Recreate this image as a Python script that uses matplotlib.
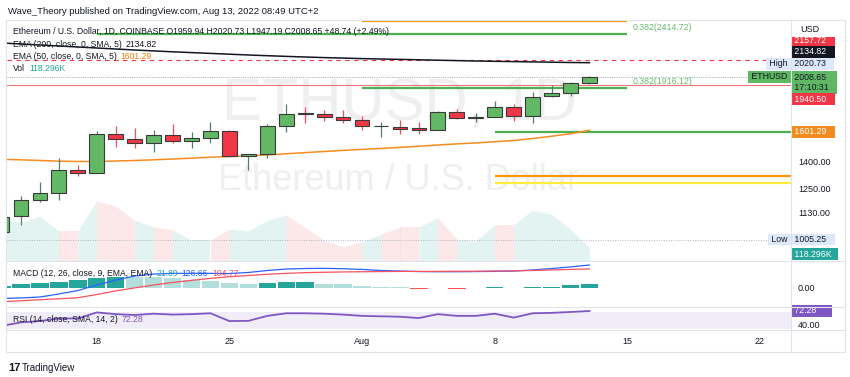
import matplotlib
matplotlib.use('Agg')
import matplotlib.pyplot as plt
import matplotlib.dates as mdates
from matplotlib.ticker import NullLocator
from matplotlib.patches import Rectangle
import pandas as pd

plt.rcParams['font.family'] = ['Liberation Sans', 'DejaVu Sans']

# ---------------- data ----------------
dates = pd.date_range('2022-07-13', '2022-08-13', freq='D')
opens = [1037, 1112, 1190, 1228, 1350, 1335, 1576, 1541, 1519, 1571, 1532, 1548, 1594, 1437, 1447, 1633,
         1722, 1716, 1692, 1675, 1629, 1626, 1615, 1603, 1733, 1689, 1696, 1770, 1702, 1853, 1874, 1959.94]
highs = [1121, 1211, 1283, 1421, 1381, 1596, 1631, 1619, 1603, 1645, 1591, 1661, 1603, 1449, 1645, 1788,
         1770, 1743, 1743, 1704, 1661, 1673, 1661, 1740, 1751, 1726, 1816, 1791, 1882, 1941, 1969, 2020.73]
lows = [1005.25, 1070, 1178, 1190, 1318, 1333, 1489, 1483, 1462, 1515, 1487, 1515, 1436, 1352, 1421, 1588,
        1654, 1666, 1649, 1603, 1558, 1576, 1576, 1600, 1678, 1661, 1692, 1666, 1654, 1847, 1853, 1947.19]
closes = [1109, 1190, 1228, 1352, 1335, 1576, 1541, 1519, 1571, 1532, 1548, 1594, 1437, 1447, 1633, 1718,
          1719, 1696, 1675, 1631, 1633, 1612, 1603, 1733, 1689, 1696, 1770, 1702, 1847, 1874, 1956, 2008.65]
volume_k = [371, 341, 400, 267, 267, 534, 490, 362, 303, 279, 184, 184, 287, 267, 362, 409,
            296, 184, 127, 172, 238, 303, 303, 385, 193, 178, 320, 327, 451, 416, 282, 118.296]
ema50 = [1415, 1412, 1408, 1404, 1402, 1402, 1405, 1408, 1412, 1417, 1422, 1428, 1432, 1436, 1442, 1449,
         1456, 1463, 1470, 1476, 1482, 1489, 1496, 1504, 1511, 1517, 1525, 1533, 1546, 1561, 1578, 1601.29]
ema200 = [2321.3, 2311.5, 2301.7, 2291.9, 2282.2, 2272.5, 2262.8, 2253.2, 2244.6, 2236.0, 2228.4, 2220.9,
          2213.3, 2205.8, 2199.2, 2192.7, 2187.1, 2181.5, 2176.9, 2172.2, 2168.6, 2164.9, 2161.2, 2157.5,
          2153.8, 2150.2, 2147.4, 2144.7, 2141.9, 2139.2, 2136.5, 2134.82]
macd_line = [-60, -57, -52, -35, -16, 15, 43, 65, 76, 80, 80, 80, 79, 85, 96, 104,
             107, 108, 106, 102, 96, 93, 90, 89, 89, 90, 91, 93, 99, 107, 116, 126.66]
signal_line = [-78, -73, -67, -62, -56, -38, -18, -1, 15, 29, 41, 52, 61, 68, 75, 80,
               84, 86, 88, 89, 90, 91, 91, 91, 92, 92, 93, 94, 96, 99, 102, 104.77]
macd_hist = [12, 18, 26, 33, 41, 56, 62, 61, 58, 52, 45, 37, 28, 18, 24, 30,
             32, 22, 20, 11, 6, 2, -5, -2, -5, -4, 3, -4, 3, 6, 13, 21.89]
rsi = [38, 46, 49, 55, 55, 69, 65, 63, 66, 64, 65, 67, 49, 49.5, 61, 67,
       67, 66, 64, 61, 60, 59, 56, 65, 61, 61, 66, 57, 67, 68, 70, 72.28]

# drawn levels
level_top_orange = 2552.0
fib_upper = 2414.72
fib_lower = 1916.12
support_green = 1589.5
support_orange = 1318.0
support_yellow = 1279.5
hline_red_dashed = 2157.72
hline_red = 1940.50
period_high = 2020.73
period_low = 1005.25
last_close = 2008.65
fib_upper_start, fib_start, fib_end = '2022-07-18', '2022-08-01', '2022-08-15'
support_start = '2022-08-08'

price_ticks = [1130, 1250, 1400]
tick_dates = ['2022-07-18', '2022-07-25', '2022-08-01', '2022-08-08', '2022-08-15', '2022-08-22']
tick_labels = ['18', '25', 'Aug', '8', '15', '22']

# ---------------- figure ----------------
W, H = 850, 377
fig = plt.figure(figsize=(8.5, 3.77), dpi=100)
fig.patch.set_facecolor('white')


def rect(x0, y0, x1, y1):
    return [x0 / W, 1 - y1 / H, (x1 - x0) / W, (y1 - y0) / H]


TXT = '#131722'
ax_v = fig.add_axes(rect(7, 20, 791, 261))
ax = fig.add_axes(rect(7, 20, 791, 261), sharex=ax_v)
ax_m = fig.add_axes(rect(7, 261, 791, 307), sharex=ax_v)
ax_r = fig.add_axes(rect(7, 307, 791, 330), sharex=ax_v)
ax.patch.set_alpha(0)

x = mdates.date2num(dates)
d0 = x[0]
ax_v.set_xlim(d0 + 5 / 18.95, d0 + 789 / 18.95)
xmin, xmax = ax_v.get_xlim()

for a in (ax_v, ax, ax_m, ax_r):
    for s in a.spines.values():
        s.set_visible(False)
    a.tick_params(length=0, labelsize=6.5, labelcolor=TXT)
    a.yaxis.tick_right()
for a in (ax_v, ax, ax_m):
    a.tick_params(axis='x', labelbottom=False)
ax_v.set_yticks([])

# watermark
ax_v.text(400 / W, 1 - 105 / H, 'ETHUSD, 1D', transform=fig.transFigure, ha='center', va='center',
          fontsize=43, color='#efeff2', zorder=0)
ax_v.text(398 / W, 1 - 181 / H, 'Ethereum / U.S. Dollar', transform=fig.transFigure, ha='center',
          va='center', fontsize=26, color='#efeff2', zorder=0)

# volume area
ax_v.set_ylim(0, 2145)
for i in range(1, len(x)):
    up = closes[i] >= opens[i]
    ax_v.fill_between([x[i - 1], x[i]], [volume_k[i - 1], volume_k[i]], 0,
                      color='#26a69a' if up else '#ef5350', alpha=0.13, lw=0, zorder=1)

# price pane
ax.set_yscale('log')
ax.set_ylim(918.0, 2560.0)
ax.yaxis.set_minor_locator(NullLocator())
ax.set_yticks(price_ticks)
ax.set_yticklabels([f'{p:.2f}' for p in price_ticks])
ax.tick_params(axis='y', pad=5)

ax.axhline(hline_red_dashed, color='#f23645', lw=0.8, ls=(0, (4, 4)), zorder=2)
ax.axhline(hline_red, color='#f0737c', lw=0.8, zorder=2)
ax.axhline(last_close, color='#b2b5be', lw=0.8, ls=(0, (1, 1)), zorder=2)
ax.axhline(period_low, color='#b2b5be', lw=0.7, ls=(0, (1, 1.5)), zorder=2)

fs, fe = mdates.datestr2num(fib_start), mdates.datestr2num(fib_end)
ax.hlines(level_top_orange, fs, fe, color='#ff9800', lw=1.6, zorder=2)
ax.hlines(fib_upper, mdates.datestr2num(fib_upper_start), fe, color='#4caf50', lw=1.6, zorder=2)
ax.hlines(fib_lower, fs, fe, color='#4caf50', lw=1.6, zorder=2)
ss = mdates.datestr2num(support_start)
ax.hlines(support_green, ss, xmax, color='#4caf50', lw=1.6, zorder=2)
ax.hlines(support_orange, ss, xmax, color='#ff9800', lw=1.6, zorder=2)
ax.hlines(support_yellow, ss, xmax, color='#ffeb3b', lw=1.6, zorder=2)
for lvl in (fib_upper, fib_lower):
    ax.annotate(f'0.382({lvl:.2f})', xy=(fe, lvl), xytext=(5, 2), textcoords='offset pixels',
                ha='left', va='bottom', fontsize=6.3, color='#66bb6a', annotation_clip=False)

ax.plot(x, ema200, color=TXT, lw=1.1, zorder=3)
ax.plot(x, ema50, color='#f68c1f', lw=1.1, zorder=3)

ups = [c >= o for o, c in zip(opens, closes)]
ax.vlines(x, lows, highs, colors=['#4f806c' if u else '#e5505c' for u in ups], lw=0.9, zorder=4)
ax.bar(x, [max(abs(c - o), 0.5) for o, c in zip(opens, closes)], bottom=[min(o, c) for o, c in zip(opens, closes)],
       width=0.78, color=['#63b866' if u else '#f23645' for u in ups], edgecolor='#3a3a3a', linewidth=0.8, zorder=5)

# MACD pane
ax_m.set_ylim(-107.7, 149)
ax_m.set_yticks([0])
ax_m.set_yticklabels(['0.00'])
ax_m.tick_params(axis='y', pad=5)
hist_colors = []
for i, h in enumerate(macd_hist):
    prev = macd_hist[i - 1] if i > 0 else h - 1
    if h >= 0:
        hist_colors.append('#26a69a' if h > prev else '#b2dfdb')
    else:
        hist_colors.append('#ffcdd2' if h > prev else '#ff5252')
ax_m.bar(x, macd_hist, width=0.92, color=hist_colors, lw=0, zorder=2)
ax_m.plot(x, macd_line, color='#2962ff', lw=0.9, zorder=3)
ax_m.plot(x, signal_line, color='#f7525f', lw=0.9, zorder=3)

# RSI pane
ax_r.set_ylim(28.4, 81.5)
ax_r.axhspan(30, 70, color='#7e57c2', alpha=0.1, lw=0, zorder=1)
ax_r.plot(x, rsi, color='#7e57c2', lw=1.3, zorder=3)
ax_r.set_yticks([40])
ax_r.set_yticklabels(['40.00'])
ax_r.tick_params(axis='y', pad=5)
ax_r.set_xticks(mdates.datestr2num(tick_dates))
ax_r.set_xticklabels(tick_labels)
ax_r.tick_params(axis='x', pad=5)


def tag(axis, value, label, fc, tc, dy=0, side='right'):
    axis.annotate(label, xy=(1, value), xycoords=('axes fraction', 'data'),
                  xytext=(1 if side == 'right' else -1, dy), textcoords='offset pixels',
                  ha='left' if side == 'right' else 'right', va='center', fontsize=6.3, color=tc,
                  bbox=dict(boxstyle='square,pad=0.15', fc=fc, ec='none'),
                  annotation_clip=False, zorder=30)


tag(ax, hline_red_dashed, ' 2157.72   ', '#f23645', 'white', dy=20)
tag(ax, 2134.82, ' 2134.82   ', '#131722', 'white', dy=10.7)
tag(ax, period_high, ' 2020.73   ', '#dde9fb', TXT, dy=11.7)
tag(ax, period_high, ' High ', '#dde9fb', TXT, dy=11.7, side='left')
tag(ax, last_close, ' 2008.65   \n 17:10:31   ', '#5fb763', TXT, dy=-5.5)
tag(ax, last_close, ' ETHUSD ', '#5fb763', TXT, side='left')
tag(ax, hline_red, ' 1940.50   ', '#f23645', 'white', dy=-14)
tag(ax, 1601.29, ' 1601.29   ', '#f58a1f', 'white', dy=-1.5)
tag(ax, period_low, ' 1005.25   ', '#dde9fb', TXT)
tag(ax, period_low, ' Low ', '#dde9fb', TXT, side='left')
tag(ax_v, volume_k[-1], ' 118.296K  ', '#26a69a', 'white', dy=-6.6)
tag(ax_r, rsi[-1], ' 72.28      ', '#7e57c2', 'white')

# ---------------- overlay: frame, legends ----------------
ov = fig.add_axes([0, 0, 1, 1])
ov.set_xlim(0, W)
ov.set_ylim(H, 0)
ov.axis('off')
ov.patch.set_alpha(0)
ov.set_zorder(10)

ov.add_patch(Rectangle((791.5, 20.5), 53, 16, fc='white', ec='none'))
ov.text(800, 29, 'USD', fontsize=6.5, color=TXT, va='center')
grid_c = '#e0e3eb'
ov.add_patch(Rectangle((6, 20), 839, 332, fill=False, ec=grid_c, lw=0.8))
for yy in (261, 307, 330):
    ov.plot([6, 845], [yy, yy], color=grid_c, lw=0.8)
ov.plot([791, 791], [20, 352], color=grid_c, lw=0.8)

ov.text(8, 11, 'Wave_Theory published on TradingView.com, Aug 13, 2022 08:49 UTC+2',
        fontsize=6.8, color=TXT, va='center')
ov.text(13, 32, 'Ethereum / U.S. Dollar, 1D, COINBASE O1959.94 H2020.73 L1947.19 C2008.65 +48.74 (+2.49%)',
        fontsize=6.2, color=TXT, va='center')


def legend_row(y, label, values):
    prev = ov.text(13, y, label, fontsize=6.2, color=TXT, va='center')
    for val, col in values:
        prev = ov.annotate(val, xy=(1, 0.5), xycoords=prev, xytext=(4, 0), textcoords='offset pixels',
                           fontsize=6.2, color=col, va='center')


legend_row(44.5, 'EMA (200, close, 0, SMA, 5)', [('2134.82', TXT)])
legend_row(56.5, 'EMA (50, close, 0, SMA, 5)', [('1601.29', '#f57c00')])
legend_row(68.5, 'Vol', [('118.296K', '#26a69a')])
legend_row(273, 'MACD (12, 26, close, 9, EMA, EMA)', [('21.89', '#26a69a'), ('126.66', '#2962ff'),
                                                      ('104.77', '#f7525f')])
legend_row(320, 'RSI (14, close, SMA, 14, 2)', [('72.28', '#7e57c2')])

ov.text(8, 368, '17', fontsize=8, fontweight='heavy', color=TXT, va='center')
ov.text(22, 368, 'TradingView', fontsize=7, color=TXT, va='center')

fig.savefig('out.png', dpi=100, facecolor='white')
